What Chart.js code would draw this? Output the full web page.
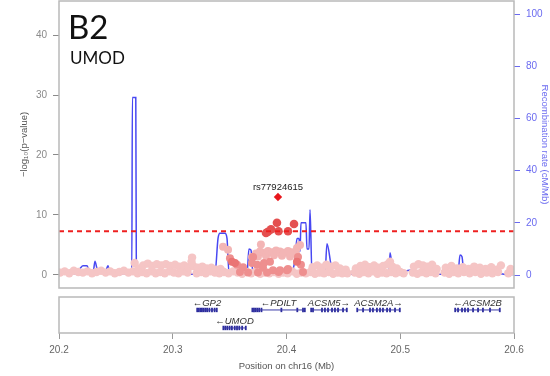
<!DOCTYPE html>
<html>
<head>
<meta charset="utf-8">
<script src="https://cdn.jsdelivr.net/npm/chart.js@4/dist/chart.umd.min.js"></script>
<style>
  html, body { margin: 0; padding: 0; background: #fff; }
  #wrap { position: relative; width: 550px; height: 376px; overflow: hidden; }
  canvas { position: absolute; left: 0; }
  #main { top: 0; }
  #genes { top: 291px; }
  .tag { position: absolute; font-family: Lato, "Open Sans", sans-serif; color: #111; white-space: nowrap; }
  #panelTag { left: 68px; top: 6px; font-size: 33px; line-height: 40px; }
  #locusTag { left: 70px; top: 48px; font-size: 17px; line-height: 20px; }
</style>
</head>
<body>
<div id="wrap">
  <canvas id="main" width="550" height="291" style="width:550px;height:291px"></canvas>
  <canvas id="genes" width="550" height="85" style="width:550px;height:85px"></canvas>
  <div class="tag" id="panelTag">B2</div>
  <div class="tag" id="locusTag">UMOD</div>
</div>
<script>
// ---- Index SNP ----
const leadName = 'rs77924615';
const leadPos = [20.3925];
const leadLogP = [13.0];

// ---- SNPs grouped by LD (r²) with the index SNP; position in Mb, -log10(p) ----
// r² < 0.2
const ld0Pos = [
  20.201, 20.205, 20.209, 20.213, 20.217, 20.221, 20.225, 20.229, 20.233, 20.237,
  20.241, 20.245, 20.249, 20.253, 20.257, 20.261, 20.265, 20.2665, 20.269, 20.270,
  20.273, 20.274, 20.277, 20.278, 20.281, 20.282, 20.285, 20.286, 20.289, 20.290,
  20.293, 20.294, 20.297, 20.298, 20.301, 20.302, 20.305, 20.306, 20.309, 20.310,
  20.313, 20.314, 20.3165, 20.317, 20.318, 20.321, 20.322, 20.325, 20.326, 20.329,
  20.330, 20.333, 20.334, 20.337, 20.338, 20.341, 20.342, 20.345, 20.349, 20.353,
  20.357, 20.361, 20.365, 20.369, 20.373, 20.377, 20.381, 20.385, 20.389, 20.393,
  20.397, 20.401, 20.405, 20.409, 20.413, 20.417, 20.421, 20.423, 20.425, 20.427,
  20.429, 20.431, 20.433, 20.435, 20.437, 20.439, 20.441, 20.443, 20.445, 20.447,
  20.449, 20.452, 20.4535, 20.460, 20.461, 20.464, 20.465, 20.468, 20.469, 20.472,
  20.473, 20.476, 20.477, 20.480, 20.481, 20.484, 20.485, 20.488, 20.489, 20.491,
  20.492, 20.493, 20.496, 20.497, 20.500, 20.503, 20.511, 20.512, 20.515, 20.516,
  20.519, 20.520, 20.523, 20.524, 20.527, 20.528, 20.531, 20.532, 20.539, 20.540,
  20.543, 20.545, 20.547, 20.550, 20.551, 20.555, 20.556, 20.560, 20.561, 20.565,
  20.566, 20.570, 20.571, 20.575, 20.576, 20.580, 20.581, 20.585, 20.586, 20.5885,
  20.595, 20.597, 20.599
];
const ld0LogP = [
  0.4, 0.6, 0.3, 0.7, 0.5, 0.4, 0.6, 0.3, 0.5, 0.7,
  0.4, 0.6, 0.3, 0.5, 0.7, 0.4, 0.6, 2.0, 0.3, 1.1,
  0.5, 1.6, 0.3, 1.9, 0.6, 1.5, 0.3, 1.8, 0.5, 1.6,
  0.3, 1.8, 0.6, 1.5, 0.4, 1.7, 0.3, 1.4, 0.6, 1.6,
  0.4, 1.3, 2.2, 2.9, 1.5, 0.3, 1.2, 0.5, 1.4, 0.3,
  1.1, 0.6, 1.2, 0.4, 0.9, 0.3, 1.0, 0.5, 0.3, 0.6,
  0.4, 0.2, 0.5, 0.3, 0.6, 0.2, 0.4, 0.3, 0.5, 0.2,
  0.4, 0.3, 0.6, 0.2, 0.4, 0.3, 0.5, 1.3, 0.2, 1.6,
  0.4, 1.2, 0.3, 1.7, 0.5, 1.4, 0.2, 1.6, 0.4, 1.1,
  0.3, 0.9, 0.3, 0.4, 1.1, 0.2, 1.5, 0.5, 1.7, 0.3,
  1.3, 0.6, 1.6, 0.2, 1.2, 0.4, 1.5, 0.3, 1.8, 2.2,
  0.5, 1.4, 0.3, 1.1, 0.5, 0.3, 0.4, 1.4, 0.2, 1.8,
  0.5, 1.6, 0.3, 1.4, 0.5, 1.7, 0.3, 1.0, 0.4, 1.2,
  0.2, 1.5, 0.5, 1.1, 0.3, 1.3, 0.5, 1.0, 0.3, 1.4,
  0.5, 1.2, 0.2, 1.0, 0.4, 1.3, 0.3, 0.9, 0.5, 1.6,
  0.3, 1.0, 0.6
];
// 0.2 <= r² < 0.4
const ld1Pos = [20.3442, 20.3486, 20.3697, 20.3732, 20.3749, 20.3767, 20.3775, 20.3802, 20.3820, 20.3837,
                20.3873, 20.3890, 20.3908, 20.3943, 20.3960, 20.3978, 20.4013, 20.4031, 20.4048, 20.4084,
                20.4092, 20.4119];
const ld1LogP = [4.7, 4.2, 3.0, 3.6, 3.1, 3.9, 5.1, 3.7, 3.2, 4.0,
                 3.8, 3.3, 4.1, 3.9, 3.2, 3.7, 4.0, 3.1, 3.8, 3.5,
                 4.5, 5.0];
// 0.4 <= r² < 0.6
const ld2Pos = [20.3503, 20.3565, 20.3591, 20.3618, 20.3662, 20.3697, 20.3706, 20.3741, 20.3749, 20.3793,
                20.3802, 20.3829, 20.3855, 20.3881, 20.3930, 20.3943, 20.4004, 20.4013, 20.4101, 20.4127,
                20.4145];
const ld2LogP = [2.8, 1.7, 0.5, 1.3, 0.4, 2.0, 3.0, 1.7, 0.4, 1.2,
                 2.0, 0.4, 2.2, 0.8, 0.5, 0.8, 0.8, 1.0, 3.0, 1.7,
                 0.5];
// 0.6 <= r² < 0.8
const ld3Pos = [20.3521, 20.3547, 20.4092];
const ld3LogP = [2.2, 2.0, 2.2];
// r² >= 0.8
const ld4Pos = [20.3820, 20.3837, 20.3864, 20.3916, 20.3930, 20.4013, 20.4066];
const ld4LogP = [7.0, 7.2, 7.6, 8.7, 7.3, 7.3, 8.5];

// ---- Recombination rate (cM/Mb) ----
const recombPos = [
  20.2000, 20.2141, 20.2185, 20.2211, 20.2246, 20.2273, 20.2299, 20.2316, 20.2334, 20.2360,
  20.2404, 20.2431, 20.2448, 20.2640, 20.2645, 20.2675, 20.2680, 20.2976, 20.2993, 20.3002,
  20.3371, 20.3398, 20.3415, 20.3459, 20.3477, 20.3495, 20.3653, 20.3670, 20.3688, 20.3705,
  20.4031, 20.4075, 20.4092, 20.4110, 20.4119, 20.4127, 20.4171, 20.4180, 20.4198, 20.4207,
  20.4224, 20.4338, 20.4356, 20.4391, 20.4409, 20.4778, 20.4787, 20.4796, 20.4901, 20.4910,
  20.4927, 20.4954, 20.5112, 20.5130, 20.5349, 20.5508, 20.5525, 20.5543, 20.5560, 20.5877,
  20.5921, 20.6000
];
const recombRate = [
  0.5, 0.5, 2.5, 3.5, 3.5, 0.5, 0.5, 5.3, 2.5, 0.8,
  0.8, 3.5, 0.5, 0.5, 68, 68, 0.5, 0.3, 1.5, 0.3,
  0.5, 14, 16, 16, 14, 0.5, 0.5, 10, 9.5, 0.5,
  0.3, 6, 14, 14, 9, 20, 20, 10, 10, 25,
  0.5, 0.3, 12, 4, 0.3, 0.3, 2, 0.3, 0.3, 8.5,
  4, 0.5, 2, 0.3, 0.3, 0.5, 7.7, 7, 0.5, 0.5,
  0.2, 0.2
];

// genome-wide significance, -log10(5e-8)
const gwsThreshold = 7.3;

// ---- Axis ticks ----
const pTicks = [0, 10, 20, 30, 40];
const rateTicks = [0, 20, 40, 60, 80, 100];
const posTicks = [20.2, 20.3, 20.4, 20.5, 20.6];

// ---- Genes (Mb) ----
const geneNames  = ['GP2', 'UMOD', 'PDILT', 'ACSM5', 'ACSM2A', 'ACSM2B'];
const geneStart  = [20.3213, 20.3442, 20.3697, 20.4215, 20.4620, 20.5481];
const geneEnd    = [20.3389, 20.3644, 20.4163, 20.4532, 20.4998, 20.5877];
const geneStrand = [-1, -1, -1, 1, 1, -1];
const geneRow    = [0.64, 0.14, 0.64, 0.64, 0.64, 0.64];
const geneExons  = [
  [20.3215, 20.3228, 20.3242, 20.3256, 20.3270, 20.3286, 20.3302, 20.3322, 20.3345, 20.3368, 20.3387],
  [20.3445, 20.3462, 20.3480, 20.3500, 20.3520, 20.3545, 20.3565, 20.3585, 20.3610, 20.3642],
  [20.3700, 20.3714, 20.3729, 20.3744, 20.3760, 20.3780, 20.3955, 20.4095, 20.4145, 20.4161],
  [20.4217, 20.4233, 20.4312, 20.4338, 20.4365, 20.4400, 20.4426, 20.4453, 20.4497, 20.4530],
  [20.4622, 20.4673, 20.4734, 20.4760, 20.4795, 20.4822, 20.4848, 20.4884, 20.4910, 20.4954, 20.4996],
  [20.5483, 20.5508, 20.5543, 20.5569, 20.5596, 20.5640, 20.5684, 20.5727, 20.5789, 20.5875]
];

const FONT = '"Liberation Sans", Arial, sans-serif';
const pts = (xs, ys) => xs.map((x, i) => ({ x, y: ys[i] }));

// grey frame around a panel's plotting area
const framePlugin = {
  id: 'frame',
  afterDatasetsDraw(chart) {
    const { ctx, chartArea: a } = chart;
    ctx.save();
    ctx.strokeStyle = '#b9b9b9';
    ctx.lineWidth = 1.5;
    ctx.strokeRect(a.left, a.top, a.right - a.left, a.bottom - a.top);
    ctx.restore();
  }
};

// name above the index SNP
const leadLabelPlugin = {
  id: 'leadLabel',
  afterDatasetsDraw(chart) {
    const { ctx, scales } = chart;
    const x = scales.x.getPixelForValue(leadPos[0]);
    const y = scales.y.getPixelForValue(leadLogP[0]);
    ctx.save();
    ctx.font = '9.5px ' + FONT;
    ctx.fillStyle = '#222';
    ctx.textAlign = 'center';
    ctx.textBaseline = 'middle';
    ctx.fillText(leadName, x, y - 10);
    ctx.restore();
  }
};

const snpSet = (label, xs, ys, color, order, radius) => ({
  label, data: pts(xs, ys), order,
  backgroundColor: color, borderColor: color, borderWidth: 0,
  pointRadius: radius, pointHoverRadius: radius
});

const sideAxis = (position, min, max, tickValues, color, titleText, titleColor, titlePad, width) => ({
  type: 'linear', position, min, max,
  afterBuildTicks: s => { s.ticks = tickValues.map(v => ({ value: v })); },
  afterFit: s => { s.width = width; s.paddingTop = 0; s.paddingBottom = 0; },
  grid: { drawOnChartArea: false, drawTicks: true, tickLength: 6, color, lineWidth: 1 },
  border: { display: false },
  ticks: { color, padding: 6, font: { family: FONT, size: 10 } },
  title: { display: true, text: titleText, color: titleColor, font: { family: FONT, size: 9.5 },
           padding: { top: titlePad, bottom: 0 } }
});

new Chart(document.getElementById('main'), {
  type: 'scatter',
  data: {
    datasets: [
      { label: leadName, data: pts(leadPos, leadLogP), order: 0, pointStyle: 'rectRot',
        backgroundColor: '#e8161c', borderColor: '#e8161c', borderWidth: 0, pointRadius: 4.2 },
      { label: 'threshold', data: [{ x: 20.2, y: gwsThreshold }, { x: 20.6, y: gwsThreshold }],
        showLine: true, order: 1, borderColor: '#ee2020', borderWidth: 2, borderDash: [5, 4],
        pointRadius: 0 },
      snpSet('r2 0.8-1', ld4Pos, ld4LogP, '#e45050', 2, 4.3),
      snpSet('r2 0.6-0.8', ld3Pos, ld3LogP, '#ea7474', 3, 4),
      snpSet('r2 0.4-0.6', ld2Pos, ld2LogP, '#ee8f8f', 4, 4),
      snpSet('r2 0.2-0.4', ld1Pos, ld1LogP, '#f3b5b5', 5, 4),
      snpSet('r2 <0.2', ld0Pos, ld0LogP, '#f5c5c5', 6, 4.2),
      { label: 'recombination', data: pts(recombPos, recombRate), yAxisID: 'y2', showLine: true,
        order: 7, borderColor: '#4848f2', borderWidth: 1.5, pointRadius: 0,
        cubicInterpolationMode: 'monotone' }
    ]
  },
  options: {
    responsive: false,
    animation: false,
    events: [],
    layout: { autoPadding: false, padding: { top: 1, bottom: 3, left: 0, right: 0 } },
    plugins: { legend: { display: false }, tooltip: { enabled: false } },
    scales: {
      x: { type: 'linear', min: 20.2, max: 20.6, display: false },
      y: sideAxis('left', -2.17, 45.67, pTicks, '#8a8a8a', '\u2212log\u2081\u2080(p\u2212value)', '#555', 19, 59),
      y2: sideAxis('right', -4.98, 105.0, rateTicks, '#6a6af0', 'Recombination rate (cM/Mb)', '#6a6af0', 0, 36)
    }
  },
  plugins: [framePlugin, leadLabelPlugin]
});

// gene names with strand arrows
const geneLabelPlugin = {
  id: 'geneLabels',
  afterDatasetsDraw(chart) {
    const { ctx, scales } = chart;
    ctx.save();
    ctx.font = 'italic 9.5px ' + FONT;
    ctx.fillStyle = '#333';
    ctx.textAlign = 'center';
    ctx.textBaseline = 'middle';
    geneNames.forEach((g, i) => {
      const x = (scales.x.getPixelForValue(geneStart[i]) + scales.x.getPixelForValue(geneEnd[i])) / 2;
      const y = scales.y.getPixelForValue(geneRow[i]) - 7;
      const text = geneStrand[i] < 0 ? '\u2190' + g : g + '\u2192';
      ctx.fillText(text, x, y);
    });
    ctx.restore();
  }
};

const geneSets = [];
geneNames.forEach((g, i) => {
  geneSets.push({ label: g, data: [{ x: geneStart[i], y: geneRow[i] }, { x: geneEnd[i], y: geneRow[i] }],
    showLine: true, borderColor: '#3a3aa8', borderWidth: 1, pointRadius: 0 });
  geneSets.push({ label: g + ' exons', data: geneExons[i].map(x => ({ x, y: geneRow[i] })),
    pointStyle: 'line', rotation: 90, pointRadius: 2.2, borderColor: '#2a2a9c', borderWidth: 1.8 });
});

new Chart(document.getElementById('genes'), {
  type: 'scatter',
  data: { datasets: geneSets },
  options: {
    responsive: false,
    animation: false,
    events: [],
    layout: { autoPadding: false, padding: { top: 6, bottom: 0, left: 59, right: 36 } },
    plugins: { legend: { display: false }, tooltip: { enabled: false } },
    scales: {
      x: {
        type: 'linear', position: 'bottom', min: 20.2, max: 20.6,
        afterBuildTicks: s => { s.ticks = posTicks.map(v => ({ value: v })); },
        afterFit: s => { s.height = 43; },
        grid: { drawOnChartArea: false, drawTicks: true, tickLength: 6, color: '#9a9a9a' },
        border: { display: false },
        ticks: { color: '#666', padding: 5, font: { family: FONT, size: 10 }, callback: v => v.toFixed(1) },
        title: { display: true, text: 'Position on chr16 (Mb)', color: '#555',
                 font: { family: FONT, size: 9.5 }, padding: { top: 0, bottom: 4 } }
      },
      y: { min: 0, max: 1, display: false }
    }
  },
  plugins: [framePlugin, geneLabelPlugin]
});
</script>
</body>
</html>
